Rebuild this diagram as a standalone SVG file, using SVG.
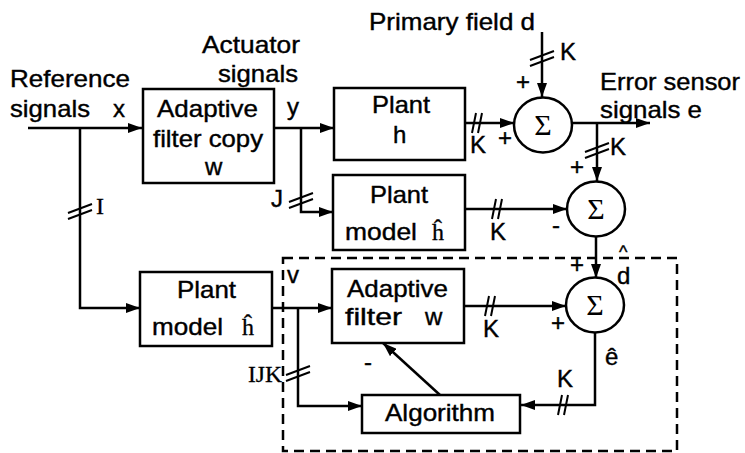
<svg xmlns="http://www.w3.org/2000/svg" width="745" height="453" viewBox="0 0 745 453">
<style>
.box{fill:#fff;stroke:#000;stroke-width:2.5}
.sum{fill:#fff;stroke:#000;stroke-width:2.5}
.ln{fill:none;stroke:#000;stroke-width:2.5}
.tk{fill:none;stroke:#000;stroke-width:2}
.t{font-family:"Liberation Sans",Arial,sans-serif;font-size:24px;fill:#000;stroke:#000;stroke-width:0.4}
.s{font-family:"Liberation Serif","Times New Roman",serif;font-size:24px;fill:#000;stroke:#000;stroke-width:0.3}
.sig{font-family:"Liberation Serif","Times New Roman",serif;font-size:30px;fill:#000;text-anchor:middle}
.m{text-anchor:middle}
</style>
<defs>
<marker id="ah" viewBox="0 0 14 10" refX="14" refY="5" markerWidth="14" markerHeight="10" markerUnits="userSpaceOnUse" orient="auto">
<path d="M0,0 L14,5 L0,10 z" fill="#000"/>
</marker>
</defs>
<rect width="745" height="453" fill="#fff"/>

<g id="frame">
<rect x="283" y="258" width="394" height="193" fill="none" stroke="#000" stroke-width="2.5" stroke-dasharray="10 6"/>
</g>

<g id="connectors">
<path class="ln" d="M28,128 H142" marker-end="url(#ah)"/>
<path class="ln" d="M80,128 V308 H140" marker-end="url(#ah)"/>
<path class="ln" d="M274,128 H334" marker-end="url(#ah)"/>
<path class="ln" d="M301,128 V212 H333" marker-end="url(#ah)"/>
<path class="ln" d="M465,123 H514" marker-end="url(#ah)"/>
<path class="ln" d="M542,32 V97" marker-end="url(#ah)"/>
<path class="ln" d="M572,123 H650" marker-end="url(#ah)"/>
<path class="ln" d="M597,123 V181" marker-end="url(#ah)"/>
<path class="ln" d="M465,209 H567" marker-end="url(#ah)"/>
<path class="ln" d="M596,237 V278" marker-end="url(#ah)"/>
<path class="ln" d="M272,308 H332" marker-end="url(#ah)"/>
<path class="ln" d="M298,308 V406 H362" marker-end="url(#ah)"/>
<path class="ln" d="M464,306 H566" marker-end="url(#ah)"/>
<path class="ln" d="M595,332 V405 H521" marker-end="url(#ah)"/>
<path class="ln" d="M440,395 L383,343" marker-end="url(#ah)"/>
<!-- ticks -->
<path class="tk" d="M68,213 L92,204 M68,219 L92,210"/>
<path class="tk" d="M289,202 L313,193 M289,208 L313,199"/>
<path class="tk" d="M530,60 L554,51 M530,66 L554,57"/>
<path class="tk" d="M585,152 L609,143 M585,158 L609,149"/>
<path class="tk" d="M286,375 L310,366 M286,381 L310,372"/>
<path class="tk" d="M472,133 L476,113 M478,133 L482,113"/>
<path class="tk" d="M492,219 L496,199 M498,219 L502,199"/>
<path class="tk" d="M485,316 L489,296 M491,316 L495,296"/>
<path class="tk" d="M558,415 L562,395 M564,415 L568,395"/>
</g>

<g id="labels">
<text class="t" x="10" y="87" textLength="120" lengthAdjust="spacingAndGlyphs">Reference</text>
<text class="t" x="10" y="117" textLength="80" lengthAdjust="spacingAndGlyphs">signals</text>
<text class="t" x="113" y="117">x</text>
<text class="t" x="202" y="53" textLength="98" lengthAdjust="spacingAndGlyphs">Actuator</text>
<text class="t" x="218" y="82" textLength="80" lengthAdjust="spacingAndGlyphs">signals</text>
<text class="t" x="287" y="115">y</text>
<text class="t" x="369" y="30" textLength="166" lengthAdjust="spacingAndGlyphs">Primary field d</text>
<text class="t" x="560" y="60">K</text>
<text class="t m" x="523" y="90">+</text>
<text class="t" x="470" y="153">K</text>
<text class="t m" x="505" y="146">+</text>
<text class="t" x="600" y="90" textLength="140" lengthAdjust="spacingAndGlyphs">Error sensor</text>
<text class="t" x="600" y="118" textLength="102" lengthAdjust="spacingAndGlyphs">signals e</text>
<text class="t" x="610" y="155">K</text>
<text class="t m" x="577" y="175">+</text>
<text class="t" x="271" y="207">J</text>
<text class="s" x="96" y="214">I</text>
<text class="t" x="490" y="240">K</text>
<text class="t m" x="556" y="233">-</text>
<text class="t m" x="577" y="273">+</text>
<text class="t" x="619" y="258" style="font-size:18px">^</text>
<text class="t" x="617" y="284">d</text>
<text class="t" x="287" y="283">v</text>
<text class="s" x="248" y="382" textLength="34" lengthAdjust="spacingAndGlyphs">IJK</text>
<text class="t" x="483" y="337">K</text>
<text class="t m" x="558" y="331">+</text>
<text class="t m" x="368" y="370">-</text>
<text class="t" x="605" y="365">ê</text>
<text class="t" x="557" y="387">K</text>
</g>

<g id="filter-copy">
<rect class="box" x="143" y="89" width="131" height="94"/>
<text class="t" x="157" y="117" textLength="101" lengthAdjust="spacingAndGlyphs">Adaptive</text>
<text class="t" x="153" y="147" textLength="110" lengthAdjust="spacingAndGlyphs">filter copy</text>
<text class="t" x="205" y="175">w</text>
</g>

<g id="plant-h">
<rect class="box" x="334" y="88" width="131" height="72"/>
<text class="t" x="372" y="113" textLength="58" lengthAdjust="spacingAndGlyphs">Plant</text>
<text class="t" x="393" y="143">h</text>
</g>

<g id="plant-model-upper">
<rect class="box" x="333" y="175" width="132" height="75"/>
<text class="t" x="370" y="203" textLength="58" lengthAdjust="spacingAndGlyphs">Plant</text>
<text class="t" x="345" y="240" textLength="72" lengthAdjust="spacingAndGlyphs">model</text>
<text class="s" x="432" y="240">ĥ</text>
</g>

<g id="sum1">
<ellipse class="sum" cx="543" cy="125" rx="29" ry="27.5"/>
<text class="sig" x="543" y="135">Σ</text>
</g>

<g id="sum2">
<ellipse class="sum" cx="596" cy="209" rx="29" ry="27.5"/>
<text class="sig" x="596" y="219">Σ</text>
</g>

<g id="sum3">
<ellipse class="sum" cx="595" cy="305" rx="29" ry="27.5"/>
<text class="sig" x="595" y="315">Σ</text>
</g>

<g id="plant-model-lower">
<rect class="box" x="140" y="272" width="132" height="74"/>
<text class="t" x="177" y="298" textLength="59" lengthAdjust="spacingAndGlyphs">Plant</text>
<text class="t" x="152" y="335" textLength="71" lengthAdjust="spacingAndGlyphs">model</text>
<text class="s" x="242" y="335">ĥ</text>
</g>

<g id="adaptive-filter">
<rect class="box" x="332" y="269" width="132" height="74"/>
<text class="t" x="347" y="297" textLength="101" lengthAdjust="spacingAndGlyphs">Adaptive</text>
<text class="t" x="345" y="325" textLength="57" lengthAdjust="spacingAndGlyphs">filter</text>
<text class="t" x="425" y="325">w</text>
</g>

<g id="algorithm">
<rect class="box" x="362" y="395" width="158" height="38"/>
<text class="t" x="385" y="421" textLength="110" lengthAdjust="spacingAndGlyphs">Algorithm</text>
</g>
</svg>
